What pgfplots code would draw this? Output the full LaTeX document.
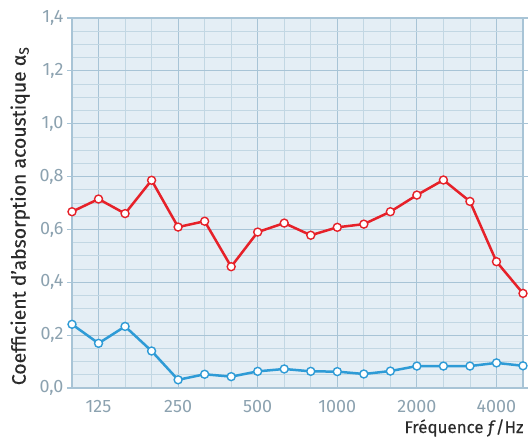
\documentclass[border=0pt]{standalone}
\usepackage{fontspec}
\setmainfont{Fira Sans}
\newfontfamily\labfont{Fira Sans}[FakeBold=0.4]
\usepackage{pgfplots}
\pgfplotsset{compat=1.18}
\definecolor{bg}{HTML}{E4EEF5}
\definecolor{gmin}{HTML}{C2D7E3}
\definecolor{gmaj}{HTML}{A8C4D6}
\definecolor{tickc}{HTML}{8CA2B0}
\definecolor{redc}{HTML}{E62129}
\definecolor{bluec}{HTML}{2E9BD6}
\definecolor{labc}{HTML}{2B2B2B}
\begin{document}
\begin{tikzpicture}
\begin{axis}[
  scale only axis, width=451bp, height=370bp,
  xmin=0, xmax=17, ymin=0, ymax=1.4,
  clip=false,
  axis background/.style={fill=bg},
  xtick={1,4,7,10,13,16},
  xticklabels={125,250,500,1000,2000,4000},
  minor xtick={0,...,17},
  ytick={0,0.2,0.4,0.6,0.8,1.0,1.2,1.4},
  minor y tick num=3,
  grid=both,
  major grid style={gmaj, line width=1.1bp},
  minor grid style={gmin, line width=0.8bp},
  axis line style={gmaj, line width=1.1bp},
  tick align=outside,
  major tick length=5bp, minor tick length=0pt,
  xtick style={draw=none},
  ytick style={gmaj, line width=1.1bp},
  ticklabel style={font=\fontsize{18}{20}\selectfont, text=tickc},
  /pgf/number format/assume math mode=true,
  yticklabel style={/pgf/number format/.cd, fixed, fixed zerofill, precision=1, use comma},
  xticklabel style={yshift=-4bp},
  ylabel={Coefficient d’absorption acoustique α\textsubscript{S}},
  ylabel style={at={(axis description cs:-0.115,0.465)}, anchor=center, font=\fontsize{19.5}{21}\labfont, text=labc},
  xlabel={Fréquence \textit{f}/Hz},
  xlabel style={at={(axis description cs:1,0)}, anchor=base east, xshift=4bp, yshift=-45bp, font=\fontsize{17}{19}\labfont, text=labc},
]
\addplot[redc, line width=2.5bp, mark=*, mark size=4bp, mark options={fill=white, draw=redc, line width=1.4bp}]
coordinates {(0,0.667)(1,0.715)(2,0.66)(3,0.786)(4,0.609)(5,0.631)(6,0.459)(7,0.59)(8,0.624)(9,0.578)(10,0.608)(11,0.62)(12,0.667)(13,0.73)(14,0.787)(15,0.706)(16,0.478)(17,0.358)};
\addplot[bluec, line width=2.5bp, mark=*, mark size=4bp, mark options={fill=white, draw=bluec, line width=1.4bp}]
coordinates {(0,0.241)(1,0.169)(2,0.233)(3,0.14)(4,0.031)(5,0.052)(6,0.043)(7,0.063)(8,0.072)(9,0.063)(10,0.062)(11,0.053)(12,0.064)(13,0.083)(14,0.083)(15,0.083)(16,0.095)(17,0.084)};
\end{axis}
\path (current axis.south west) ++(-72bp,-51bp) coordinate (bbA);
\path (current axis.north east) ++(5bp,18bp) coordinate (bbB);
\pgfresetboundingbox
\path[use as bounding box] (bbA) rectangle (bbB);
\end{tikzpicture}
\end{document}
